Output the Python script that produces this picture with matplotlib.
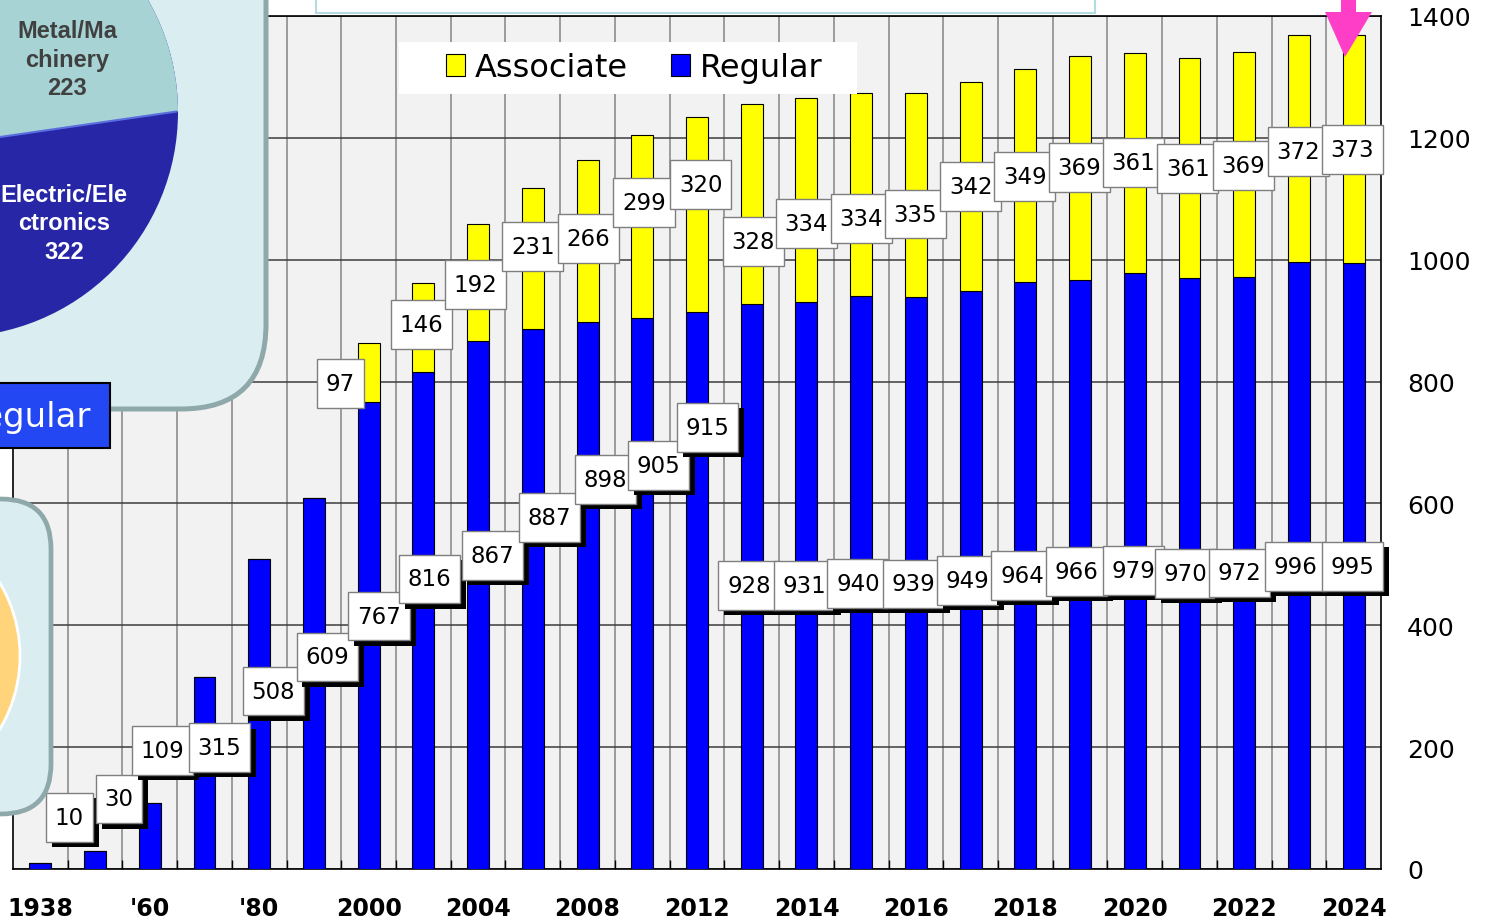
import matplotlib
matplotlib.use('Agg')
import matplotlib.pyplot as plt
import numpy as np
from matplotlib.patches import FancyBboxPatch, Rectangle, Circle, Polygon
from matplotlib.path import Path
import matplotlib.patheffects as pe

# ---------------- data ----------------
years = ['1938', '1950', '1960', '1970', '1980', '1990', '2000', '2002', '2004',
         '2006', '2008', '2010', '2012', '2013', '2014', '2015', '2016', '2017',
         '2018', '2019', '2020', '2021', '2022', '2023', '2024']
regular = [10, 30, 109, 315, 508, 609, 767, 816, 867, 887, 898, 905, 915,
           928, 931, 940, 939, 949, 964, 966, 979, 970, 972, 996, 995]
associate = [0, 0, 0, 0, 0, 0, 97, 146, 192, 231, 266, 299, 320,
             328, 334, 334, 335, 342, 349, 369, 361, 361, 369, 372, 373]
tick_idx = [0, 2, 4, 6, 8, 10, 12, 14, 16, 18, 20, 22, 24]
tick_labels = ['1938', "'60", "'80", '2000', '2004', '2008', '2012', '2014',
               '2016', '2018', '2020', '2022', '2024']
y_ticks = [0, 200, 400, 600, 800, 1000, 1200, 1400]

# label placement: offset from bar centre (category units) and height (value units)
reg_lab_dx = [0.53, 0.44, 0.23, 0.27, 0.26, 0.24, 0.19, 0.105, 0.26, 0.30, 0.32,
              0.29, 0.19, -0.05, -0.03, -0.06, -0.05, -0.05, -0.06, -0.06, -0.02,
              -0.07, -0.08, -0.06, -0.02]
reg_lab_y = [85, 115, 194, 199, 292, 348, 415, 476, 515, 577, 639, 662, 725,
             465, 465, 469, 468, 474, 482, 488, 490, 485, 486, 497, 497]
asc_lab_dx = [0, 0, 0, 0, 0, 0, -0.52, -0.03, -0.05, 0.0, 0.01, 0.03, 0.07,
              0.03, 0.0, 0.0, -0.01, 0.0, -0.01, -0.01, -0.02, -0.03, -0.02, -0.01, -0.02]
asc_lab_y = [0, 0, 0, 0, 0, 0, 797, 894, 959, 1022, 1035, 1094, 1123,
             1030, 1059, 1068, 1075, 1120, 1137, 1151, 1160, 1150, 1155, 1178, 1181]

W, H = 1487, 920
fig = plt.figure(figsize=(W / 100, H / 100), dpi=100)
fig.patch.set_facecolor('white')
ax = fig.add_axes([13 / W, 50 / H, 1368 / W, 853 / H])
ax.set_facecolor('#f2f2f2')

x = np.arange(len(years))
h_reg = ax.bar(x, regular, width=0.4, color='#0000ff', edgecolor='black',
               linewidth=0.8, zorder=3)
h_asc = ax.bar(x, associate, bottom=regular, width=0.4, color='#ffff00',
               edgecolor='black', linewidth=0.8, zorder=3)

ax.set_xlim(-0.5, len(years) - 0.5)
ax.set_ylim(0, 1400)

ax.set_xticks(tick_idx)
ax.set_xticklabels(tick_labels, fontweight='bold', fontsize=17)
ax.set_xticks(np.arange(0.5, len(years) - 1, 1), minor=True)
ax.tick_params(axis='x', which='major', length=0, pad=19.5)
ax.tick_params(axis='x', which='minor', direction='in', length=6.5, width=1, color='black')
ax.xaxis.grid(True, which='minor', color='#8c8c8c', linewidth=1.2)

ax.yaxis.tick_right()
ax.set_yticks(y_ticks)
ax.tick_params(axis='y', length=0, pad=18.7, labelsize=18)
ax.yaxis.grid(True, color='#3c3c3c', linewidth=1.1)
ax.set_axisbelow(True)
for s in ax.spines.values():
    s.set_color('black')
    s.set_linewidth(1.2)


def label_box(x0, y0, width, height, mutation_size):
    px = 0.38 * mutation_size
    py = 0.56 * mutation_size
    x0 -= px
    y0 -= py
    width += 2 * px
    height += 2 * py
    return Path([(x0, y0), (x0 + width, y0), (x0 + width, y0 + height),
                 (x0, y0 + height), (x0, y0)], closed=True)


for i, v in enumerate(regular):
    t = ax.text(i + reg_lab_dx[i], reg_lab_y[i], str(v), ha='center', va='center',
                fontsize=16.5, color='black', zorder=6,
                bbox=dict(boxstyle=label_box, fc='white', ec='#7f7f7f', lw=1))
    t.get_bbox_patch().set_path_effects(
        [pe.SimplePatchShadow(offset=(4.3, -3.8), shadow_rgbFace='black', alpha=1.0),
         pe.Normal()])

for i, v in enumerate(associate):
    if v <= 0:
        continue
    ax.text(i + asc_lab_dx[i], asc_lab_y[i], str(v), ha='center', va='center',
            fontsize=16.5, color='black', zorder=6,
            bbox=dict(boxstyle=label_box, fc='white', ec='#7f7f7f', lw=1))

# legend
ax.add_patch(Rectangle((399 / W, 1 - 95 / H), 458 / W, 52 / H, transform=fig.transFigure,
                       fc='white', ec='none', zorder=7, clip_on=False))
leg = ax.legend(handles=[h_asc, h_reg], labels=['Associate', 'Regular'], loc='center',
                bbox_to_anchor=(634.5 / W, 1 - 68.5 / H), bbox_transform=fig.transFigure,
                ncol=2, frameon=False, fontsize=23, handlelength=0.6, handleheight=0.66,
                handletextpad=0.31, columnspacing=1.35, borderpad=0.1)
leg.set_zorder(10)

# ---------------- surrounding decorations (cropped slide elements) ----------------
ov = fig.add_axes([0, 0, 1, 1])
ov.set_xlim(0, W)
ov.set_ylim(0, H)
ov.axis('off')
ov.set_zorder(5)


def Y(p):
    return H - p


ov.add_patch(FancyBboxPatch((-300, Y(410)), 566, 1200,
                            boxstyle='round,pad=0,rounding_size=85',
                            fc='#daedf0', ec='#8fa9ab', lw=3.6))
# pie (cropped): dark lower slice, light upper slice clipped above boundary
ov.add_patch(Circle((-47, Y(113)), 225, fc='#2626a6', ec='none'))
upper = Circle((-47, Y(113)), 225, fc='#a7d3d5', ec='none')
ov.add_patch(upper)
clip_poly = Polygon([(-400, Y(-400)), (400, Y(-400)), (400, Y(138 - 0.1445 * 400)),
                     (-400, Y(138 + 0.1445 * 400))], closed=True, transform=ov.transData)
upper.set_clip_path(clip_poly)
ov.plot([0, 176], [Y(138), Y(112.6)], color='#5b6ee0', lw=1.5)
ov.text(67, Y(60), 'Metal/Ma\nchinery\n223', ha='center', va='center', fontsize=17,
        fontweight='bold', family='Liberation Sans', color='#404040', linespacing=1.32)
ov.text(64, Y(224), 'Electric/Ele\nctronics\n322', ha='center', va='center', fontsize=17,
        fontweight='bold', family='Liberation Sans', color='white', linespacing=1.32)

ov.add_patch(Rectangle((-10, Y(449)), 120, 65, fc='#2347f2', ec='black', lw=1.5))
ov.text(91, Y(418), 'Regular', ha='right', va='center', fontsize=24.5, color='white')

ov.add_patch(FancyBboxPatch((-300, Y(815)), 351, 315,
                            boxstyle='round,pad=0,rounding_size=50',
                            fc='#daedf0', ec='#8fa9ab', lw=3.4))
ov.add_patch(Circle((-123, Y(657)), 143, fc='#ffd47a', ec='white', lw=2))

ov.add_patch(Rectangle((316, Y(14)), 779, 60, fc='white', ec='#b5dbe2', lw=1.5))

arrow_px = [(1341, -5), (1341, 13), (1325, 13), (1345, 58), (1372, 13), (1356, 13), (1356, -5)]
ov.add_patch(Polygon([(a, Y(b)) for a, b in arrow_px], closed=True, fc='#ff3ec8', ec='none'))

fig.savefig('out.png', dpi=100)
